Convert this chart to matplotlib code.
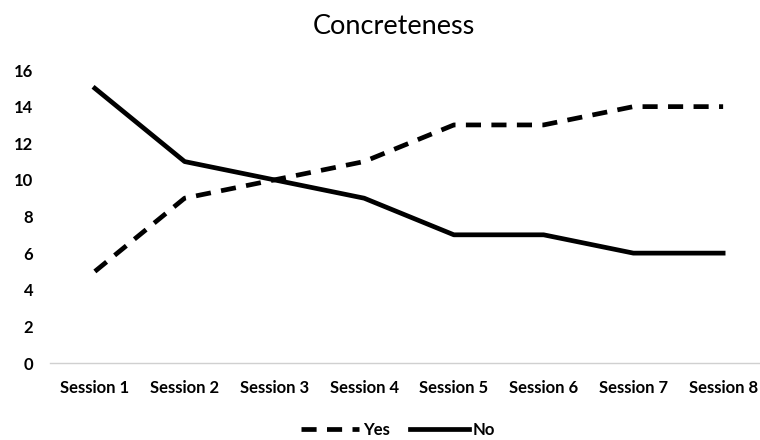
import matplotlib
matplotlib.use("Agg")
import matplotlib.pyplot as plt

# data
sessions = [f"Session {i}" for i in range(1, 9)]
yes_vals = [5, 9, 10, 11, 13, 13, 14, 14]
no_vals = [15, 11, 10, 9, 7, 7, 6, 6]
y_ticks = list(range(0, 17, 2))

plt.rcParams['font.family'] = ['Lato', 'DejaVu Sans']

fig = plt.figure(figsize=(7.6, 4.4), dpi=100)
ax = fig.add_axes([50 / 760, 1 - 363 / 440, 718 / 760, (363 - 70) / 440])

x = list(range(len(sessions)))
ax.plot(x, yes_vals, color='black', lw=3.4, linestyle=(0, (3.2, 2.2)), label='Yes',
        solid_capstyle='butt', dash_capstyle='butt')
ax.plot(x, no_vals, color='black', lw=3.4, label='No', solid_joinstyle='round')

ax.set_xlim(-0.5, 7.5)
ax.set_ylim(0, 16)
ax.set_yticks(y_ticks)
ax.set_yticklabels([str(v) for v in y_ticks], fontsize=12, fontweight='bold')
ax.set_xticks(x)
ax.set_xticklabels(sessions, fontsize=12, fontweight='bold')
ax.tick_params(length=0)
ax.tick_params(axis='x', pad=12)
ax.tick_params(axis='y', pad=12)

for side in ['top', 'right', 'left']:
    ax.spines[side].set_visible(False)
ax.spines['bottom'].set_color('#d0d0d0')
ax.spines['bottom'].set_linewidth(1)

fig.text(394 / 760, 1 - 27 / 440, 'Concreteness', ha='center', va='center', fontsize=19.5)

leg = fig.legend(loc='center', bbox_to_anchor=(398 / 760, 1 - 430 / 440), ncol=2,
                 frameon=False, handlelength=3.5, columnspacing=1.2, handletextpad=0.25,
                 borderpad=0, prop={'size': 12, 'weight': 'bold'})

fig.savefig('out.png', dpi=100)
